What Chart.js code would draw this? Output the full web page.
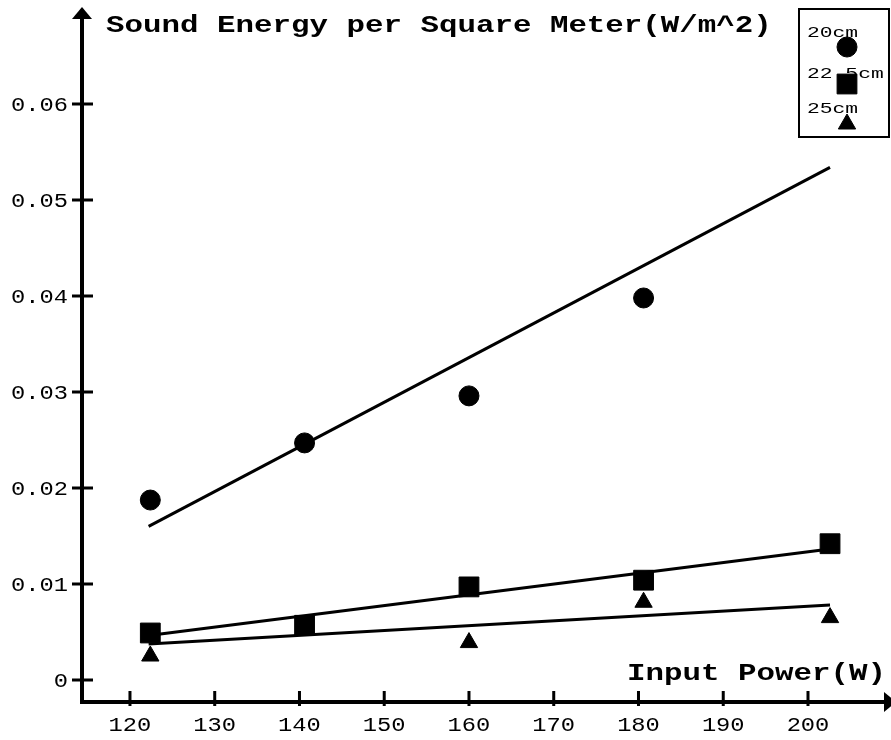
<!DOCTYPE html>
<html>
<head>
<meta charset="utf-8">
<title>Sound Energy per Square Meter</title>
<script src="https://cdn.jsdelivr.net/npm/chart.js@4/dist/chart.umd.min.js"></script>
<style>
  html, body { margin: 0; padding: 0; background: #ffffff; }
  #wrap { width: 891px; height: 740px; }
</style>
</head>
<body>
<div id="wrap"><canvas id="chart" width="891" height="740"></canvas></div>
<script>
// Measured sound energy (W/m^2) against input power (W) at three distances
const power = [122.4, 140.6, 160.0, 180.6, 202.6];
const energy20 = [0.01875, 0.0247, 0.0296, 0.0398, null];
const energy225 = [0.0049, 0.0057, 0.0097, 0.0104, 0.0142];
const energy25 = [0.0025, null, 0.0039, 0.0081, 0.0065];

// Straight trend lines, given by their two end points
const fitPower = [122.2, 202.6];
const fit20 = [0.0160, 0.0534];
const fit225 = [0.00464, 0.01366];
const fit25 = [0.00375, 0.00781];

const seriesNames = ['20cm', '22.5cm', '25cm'];
const xTicks = [120, 130, 140, 150, 160, 170, 180, 190, 200];
const yTicks = [0, 0.01, 0.02, 0.03, 0.04, 0.05, 0.06];
const yTickLabels = ['0', '0.01', '0.02', '0.03', '0.04', '0.05', '0.06'];
const yTitle = 'Sound Energy per Square Meter(W/m^2)';
const xTitle = 'Input Power(W)';

function pairs(xs, ys) {
  const out = [];
  xs.forEach((x, i) => { if (ys[i] !== null) out.push({ x: x, y: ys[i] }); });
  return out;
}

const INK = '#000000';
const MONO = '"Liberation Mono", "DejaVu Sans Mono", monospace';

// Text in this chart uses a wide monospaced face, so glyphs are stretched horizontally
function wideText(ctx, text, x, y, size, bold, sx, align) {
  ctx.save();
  ctx.translate(x, y);
  ctx.scale(sx, 1);
  ctx.font = (bold ? 'bold ' : '') + size + 'px ' + MONO;
  ctx.fillStyle = INK;
  ctx.textAlign = align || 'left';
  ctx.textBaseline = 'alphabetic';
  ctx.fillText(text, 0, 0);
  ctx.restore();
}

function marker(ctx, style, x, y, r) {
  ctx.save();
  ctx.fillStyle = INK;
  ctx.strokeStyle = INK;
  ctx.lineWidth = 1;
  ctx.beginPath();
  if (style === 'circle') {
    ctx.arc(x, y, r, 0, Math.PI * 2);
  } else if (style === 'rect') {
    const h = r * Math.SQRT1_2;
    ctx.rect(x - h, y - h, 2 * h, 2 * h);
  } else {
    for (let k = 0; k < 3; k++) {
      const a = k * 2 * Math.PI / 3;
      const px = x + Math.sin(a) * r, py = y - Math.cos(a) * r;
      if (k === 0) ctx.moveTo(px, py); else ctx.lineTo(px, py);
    }
    ctx.closePath();
  }
  ctx.fill();
  ctx.stroke();
  ctx.restore();
}

const axesPlugin = {
  id: 'arrowAxes',
  afterDraw(chart) {
    const ctx = chart.ctx;
    const xs = chart.scales.x, ys = chart.scales.y;
    const ax = xs.left, ay = ys.bottom;
    ctx.save();
    ctx.strokeStyle = INK;
    ctx.fillStyle = INK;

    // axis lines
    ctx.lineWidth = 4;
    ctx.beginPath();
    ctx.moveTo(ax, ay + 2); ctx.lineTo(ax, 17);
    ctx.moveTo(ax - 2, ay); ctx.lineTo(886, ay);
    ctx.stroke();

    // arrow heads
    ctx.beginPath();
    ctx.moveTo(ax, 7); ctx.lineTo(ax + 10, 19); ctx.lineTo(ax - 10, 19); ctx.closePath();
    ctx.fill();
    ctx.beginPath();
    ctx.moveTo(896, ay); ctx.lineTo(884, ay - 10); ctx.lineTo(884, ay + 10); ctx.closePath();
    ctx.fill();

    // tick marks
    ctx.lineWidth = 3;
    ctx.beginPath();
    yTicks.forEach(v => {
      const py = ys.getPixelForValue(v);
      ctx.moveTo(ax - 10, py); ctx.lineTo(ax + 11, py);
    });
    xTicks.forEach(v => {
      const px = xs.getPixelForValue(v);
      ctx.moveTo(px, ay - 11); ctx.lineTo(px, ay + 4);
    });
    ctx.stroke();
    ctx.restore();

    // tick labels
    yTicks.forEach((v, i) => {
      wideText(ctx, yTickLabels[i], 68, ys.getPixelForValue(v) + 7, 21, false, 1.13, 'right');
    });
    xTicks.forEach(v => {
      wideText(ctx, String(v), xs.getPixelForValue(v), 731, 21, false, 1.13, 'center');
    });

    // axis titles
    wideText(ctx, yTitle, 106, 32, 23, true, 1.34, 'left');
    wideText(ctx, xTitle, 627, 680, 23, true, 1.34, 'left');

    // legend box
    ctx.save();
    ctx.fillStyle = '#ffffff';
    ctx.fillRect(799, 9, 90, 128);
    ctx.strokeStyle = INK;
    ctx.lineWidth = 2;
    ctx.strokeRect(799, 9, 90, 128);
    ctx.restore();
    const legendRows = [
      { base: 37, style: 'circle', cy: 47, r: 10 },
      { base: 78, style: 'rect', cy: 84, r: 14 },
      { base: 113, style: 'triangle', cy: 124, r: 10 }
    ];
    legendRows.forEach((row, i) => {
      wideText(ctx, seriesNames[i], 807, row.base, 15, false, 1.42, 'left');
      marker(ctx, row.style, 847, row.cy, row.r);
    });
  }
};

const pointSet = (label, data, style, r) => ({
  label: label,
  data: data,
  showLine: false,
  pointStyle: style,
  pointRadius: r,
  pointHoverRadius: r,
  pointBackgroundColor: INK,
  pointBorderColor: INK,
  pointBorderWidth: 1,
  borderColor: INK,
  backgroundColor: INK
});

const lineSet = (label, ys) => ({
  label: label,
  data: pairs(fitPower, ys),
  showLine: true,
  pointRadius: 0,
  borderColor: INK,
  borderWidth: 3,
  fill: false
});

new Chart(document.getElementById('chart'), {
  type: 'scatter',
  data: {
    datasets: [
      lineSet(seriesNames[0] + ' fit', fit20),
      lineSet(seriesNames[1] + ' fit', fit225),
      lineSet(seriesNames[2] + ' fit', fit25),
      pointSet(seriesNames[0], pairs(power, energy20), 'circle', 10),
      pointSet(seriesNames[1], pairs(power, energy225), 'rect', 14),
      pointSet(seriesNames[2], pairs(power, energy25), 'triangle', 10)
    ]
  },
  options: {
    responsive: false,
    devicePixelRatio: 1,
    animation: false,
    layout: { autoPadding: false, padding: { left: 82, top: 10, right: 3, bottom: 38 } },
    plugins: {
      legend: { display: false },
      title: { display: false },
      tooltip: { enabled: false }
    },
    scales: {
      x: { type: 'linear', min: 114.34, max: 209.44, display: false },
      y: { type: 'linear', min: -0.00229, max: 0.0698, display: false }
    }
  },
  plugins: [axesPlugin]
});
</script>
</body>
</html>
